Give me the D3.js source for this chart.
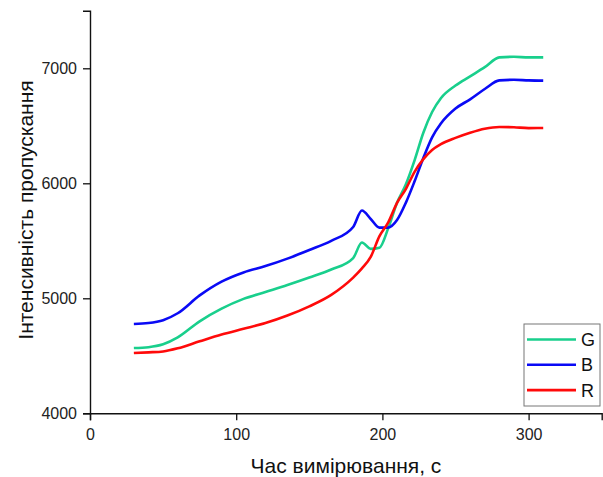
<!DOCTYPE html>
<html><head><meta charset="utf-8">
<script src="https://cdn.jsdelivr.net/npm/d3@7"></script>
<style>html,body{margin:0;padding:0;background:#fff;}svg{display:block;font-family:"Liberation Sans",Arial,sans-serif;}</style>
</head><body><svg id="c" width="603" height="477"></svg>
<script>
const times = [30,40,50,60,75,90,105,120,135,150,165,180,186,192,198,204,210,216,222,228,234,240,250,260,270,280,290,300,310];
const gValues = [4568,4575,4600,4660,4800,4910,4995,5055,5115,5180,5250,5350,5485,5430,5440,5610,5830,5990,6200,6440,6620,6740,6850,6930,7010,7095,7100,7095,7095];
const bValues = [4777,4785,4810,4870,5025,5145,5225,5280,5345,5420,5500,5620,5763,5690,5615,5615,5680,5830,6017,6220,6400,6520,6650,6730,6820,6895,6900,6895,6893];
const rValues = [4524,4530,4538,4565,4626,4685,4735,4785,4850,4930,5030,5180,5260,5360,5540,5660,5830,5950,6100,6210,6290,6340,6395,6440,6475,6490,6487,6480,6481];
const seriesNames = ["G","B","R"];
const seriesColors = ["#19cf8c","#0a0af5","#ff0a0a"];
const xTicks = [0,100,200,300];
const yTicks = [4000,5000,6000,7000];
const xTitle = "Час вимірювання, с";
const yTitle = "Інтенсивність пропускання";

const svg = d3.select("#c");
const x = d3.scaleLinear().domain([0,350]).range([90,601.7]);
const y = d3.scaleLinear().domain([4000,7500]).range([413.3,10.8]);

// lines
const seriesVals = [gValues,bValues,rValues];
const line = d3.line().x(d=>x(d[0])).y(d=>y(d[1])).curve(d3.curveMonotoneX);
seriesVals.forEach((vals,i)=>{
  svg.append("path").datum(times.map((t,j)=>[t,vals[j]]))
    .attr("d",line).attr("fill","none").attr("stroke",seriesColors[i])
    .attr("stroke-width",2.6).attr("stroke-linejoin","round");
});

// axes
const axCol = "#111";
const gx = svg.append("g").attr("transform",`translate(0,${y(4000)})`);
gx.call(d3.axisBottom(x).tickValues(d3.range(0,351,50)).tickSize(4).tickFormat(""));
gx.call(d3.axisBottom(x).tickValues(xTicks).tickSize(7).tickPadding(8).tickFormat(d3.format("d")));
gx.selectAll(".domain").attr("stroke",axCol).attr("stroke-width",1.4);
gx.selectAll("line").attr("stroke",axCol).attr("stroke-width",1.3);
gx.selectAll("text").attr("font-size",16).attr("fill","#222").attr("font-family","Liberation Sans, Arial, sans-serif");

const gy = svg.append("g").attr("transform",`translate(${x(0)},0)`);
gy.call(d3.axisLeft(y).tickValues(d3.range(4000,7501,500)).tickSize(4).tickFormat(""));
gy.call(d3.axisLeft(y).tickValues(yTicks).tickSize(7).tickPadding(6).tickFormat(d3.format("d")));
gy.selectAll(".domain").attr("stroke",axCol).attr("stroke-width",1.4);
gy.selectAll("line").attr("stroke",axCol).attr("stroke-width",1.3);
gy.selectAll("text").attr("font-size",16).attr("fill","#222").attr("font-family","Liberation Sans, Arial, sans-serif");

// titles
svg.append("text").attr("x",346).attr("y",473).attr("text-anchor","middle")
  .attr("font-size",21).attr("fill","#111").text(xTitle);
svg.append("text").attr("transform","translate(33,210) rotate(-90)").attr("text-anchor","middle")
  .attr("font-size",21).attr("fill","#111").text(yTitle);

// legend
const lg = svg.append("g");
lg.append("rect").attr("x",524).attr("y",324).attr("width",76).attr("height",82)
  .attr("fill","#fff").attr("stroke","#777").attr("stroke-width",1);
seriesNames.forEach((n,i)=>{
  const yy = 339.5 + i*25.3;
  lg.append("line").attr("x1",527).attr("x2",576).attr("y1",yy).attr("y2",yy)
    .attr("stroke",seriesColors[i]).attr("stroke-width",2.6);
  lg.append("text").attr("x",581).attr("y",yy+6.5).attr("font-size",18).attr("fill","#111").text(n);
});
</script></body></html>
